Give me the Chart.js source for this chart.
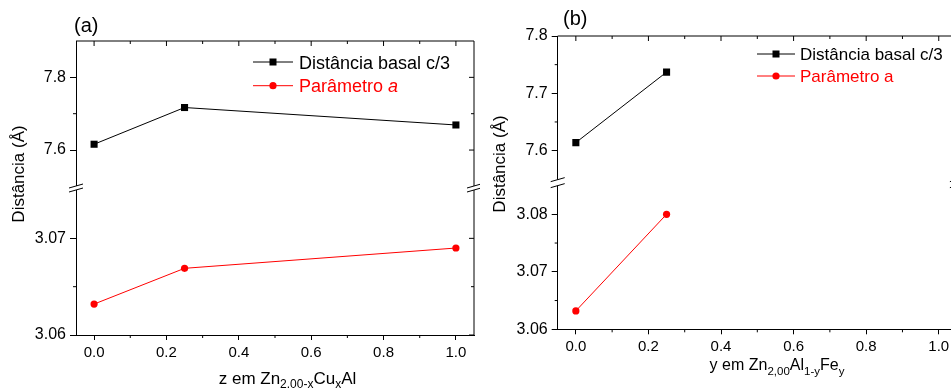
<!DOCTYPE html>
<html><head><meta charset="utf-8">
<script src="https://cdn.jsdelivr.net/npm/chart.js@4.4.1/dist/chart.umd.min.js"></script>
<style>
html,body{margin:0;padding:0;overflow:hidden;background:#fff;width:951px;height:390px;}
#ca{position:absolute;left:0;top:0;}
#cb{position:absolute;left:480px;top:0;}
</style></head><body>
<canvas id="ca" width="480" height="390"></canvas>
<canvas id="cb" width="490" height="390"></canvas>
<script>
// ---- data ----
const xA = [0, 0.25, 1.0];
const basalA = [7.616, 7.717, 7.669];
const paramA = [3.0632, 3.0669, 3.0690];
const xB = [0, 0.25];
const basalB = [7.614, 7.737];
const paramB = [3.0632, 3.0800];
const seriesLabels = ['Distância basal c/3', 'Parâmetro a'];
const xMajorTicks = [0, 0.2, 0.4, 0.6, 0.8, 1.0];
const xMinorTicks = [0.1, 0.3, 0.5, 0.7, 0.9];
const yTopMajorA = [7.6, 7.8];
const yTopMinorA = [7.7];
const yBotMajorA = [3.06, 3.07];
const yBotMinorA = [3.065];
const yTopMajorB = [7.6, 7.7, 7.8];
const yTopMinorB = [7.65, 7.75];
const yBotMajorB = [3.06, 3.07, 3.08];
const yBotMinorB = [3.065, 3.075];
const yTitleText = 'Distância (Å)';
const xTitleA = [['z em Zn', 0], ['2.00-x', 1], ['Cu', 0], ['x', 1], ['Al', 0]];
const xTitleB = [['y em Zn', 0], ['2,00', 1], ['Al', 0], ['1-y', 1], ['Fe', 0], ['y', 1]];

const FONT = '"Liberation Sans", Arial, sans-serif';
Chart.defaults.font.family = FONT;

function makeChart(cfg) {
  const seg = (c, x1, y1, x2, y2) => { c.beginPath(); c.moveTo(x1, y1); c.lineTo(x2, y2); c.stroke(); };
  const framePlugin = {
    id: 'frame',
    afterDraw(chart) {
      const c = chart.ctx, a = chart.chartArea, s = chart.scales;
      const L = a.left, R = a.right, T = a.top, B = a.bottom;
      c.save();
      c.strokeStyle = '#000'; c.lineWidth = 1;
      seg(c, L, T, R, T);
      seg(c, R, T, R, B);
      for (const v of xMajorTicks) { const px = s.x.getPixelForValue(v); seg(c, px, T, px, T + 5); }
      for (const v of xMinorTicks) { const px = s.x.getPixelForValue(v); seg(c, px, B, px, B + 3); seg(c, px, T, px, T + 3); }
      const sets = [[s.yTop, cfg.topMajor, cfg.topMinor], [s.yBot, cfg.botMajor, cfg.botMinor]];
      for (const [sc, maj, mn] of sets) {
        for (const v of maj) { const py = sc.getPixelForValue(v); seg(c, R - 5, py, R, py); }
        for (const v of mn) { const py = sc.getPixelForValue(v); seg(c, L - 3, py, L, py); seg(c, R - 3, py, R, py); }
      }
      // axis break
      const yb = s.yTop.bottom, g = cfg.gap;
      c.fillStyle = '#fff';
      c.fillRect(L - 2, yb - g, 4, 2 * g);
      c.fillRect(R - 2, yb - g, 4, 2 * g);
      for (const X of [L, R]) for (const Y of [yb - g, yb + g]) seg(c, X - 7, Y + 2, X + 7, Y - 2);
      // legend
      const lg = cfg.legend;
      chart.data.datasets.forEach((ds, i) => {
        const y = lg.rows[i];
        c.strokeStyle = ds.borderColor; c.fillStyle = ds.borderColor; c.lineWidth = 1;
        seg(c, lg.x0, y, lg.x1, y);
        const mx = (lg.x0 + lg.x1) / 2;
        if (ds.pointStyle === 'rect') { c.fillRect(mx - 3.5, y - 3.5, 7, 7); }
        else { c.beginPath(); c.arc(mx, y, 3.6, 0, Math.PI * 2); c.fill(); }
        c.textBaseline = 'alphabetic'; c.textAlign = 'left';
        const by = y + lg.font * 0.37;
        if (i === 1 && lg.italicA) {
          const base = ds.label.slice(0, -1);
          c.font = lg.font + 'px ' + FONT;
          c.fillText(base, lg.tx, by);
          const w = c.measureText(base).width;
          c.font = 'italic ' + lg.font + 'px ' + FONT;
          c.fillText(ds.label.slice(-1), lg.tx + w, by);
        } else {
          c.font = lg.font + 'px ' + FONT;
          c.fillText(ds.label, lg.tx, by);
        }
      });
      // y title
      c.fillStyle = '#000';
      c.save();
      c.translate(cfg.yTitle.x, cfg.yTitle.y);
      c.rotate(-Math.PI / 2);
      c.font = cfg.yTitle.font + 'px ' + FONT;
      c.textAlign = 'center'; c.textBaseline = 'alphabetic';
      c.fillText(yTitleText, 0, 0);
      c.restore();
      // x title with subscripts
      const xt = cfg.xTitle;
      c.textAlign = 'left'; c.textBaseline = 'alphabetic';
      let total = 0;
      for (const [t, sub] of xt.parts) { c.font = (sub ? xt.sub : xt.font) + 'px ' + FONT; total += c.measureText(t).width; }
      let cx = xt.cx - total / 2;
      for (const [t, sub] of xt.parts) {
        c.font = (sub ? xt.sub : xt.font) + 'px ' + FONT;
        c.fillText(t, cx, xt.y + (sub ? xt.subOff : 0));
        cx += c.measureText(t).width;
      }
      // panel label
      c.font = cfg.panel.font + 'px ' + FONT;
      c.fillText(cfg.panel.text, cfg.panel.x, cfg.panel.y);
      c.restore();
    }
  };

  const tickFontY = { size: 16, family: FONT };
  const tickFontX = { size: 15, family: FONT };
  const yCommon = (mn, mx, major, dec) => ({
    type: 'linear', position: 'left', stack: 'brk', stackWeight: 1,
    min: mn, max: mx,
    afterBuildTicks: (sc) => { sc.ticks = major.map(v => ({ value: v })); },
    afterFit: (sc) => { sc.width = cfg.left; },
    ticks: { callback: (v) => Number(v).toFixed(dec), font: tickFontY, color: '#000', padding: 4, autoSkip: false },
    grid: { drawOnChartArea: false, drawTicks: true, tickLength: 6, color: '#000', tickColor: '#000', tickWidth: 1 },
    border: { color: '#000', width: 1 }
  });

  return new Chart(document.getElementById(cfg.canvas), {
    type: 'line',
    data: {
      datasets: [
        { label: seriesLabels[0], data: cfg.x.map((x, i) => ({ x: x, y: cfg.basal[i] })), yAxisID: 'yTop',
          borderColor: '#000000', backgroundColor: '#000000', pointStyle: 'rect', pointRadius: 5, pointBorderWidth: 0,
          borderWidth: 1, tension: 0, fill: false },
        { label: seriesLabels[1], data: cfg.x.map((x, i) => ({ x: x, y: cfg.param[i] })), yAxisID: 'yBot',
          borderColor: '#ff0000', backgroundColor: '#ff0000', pointStyle: 'circle', pointRadius: 3.6, pointBorderWidth: 0,
          borderWidth: 1, tension: 0, fill: false }
      ]
    },
    options: {
      responsive: false, animation: false,
      layout: { padding: { left: 0, top: cfg.top, right: cfg.right, bottom: 0 } },
      plugins: { legend: { display: false }, tooltip: { enabled: false } },
      scales: {
        x: {
          type: 'linear', min: -0.05, max: 1.05,
          afterBuildTicks: (sc) => { sc.ticks = xMajorTicks.map(v => ({ value: v })); },
          afterFit: (sc) => { sc.height = cfg.xAxisH; },
          ticks: { callback: (v) => Number(v).toFixed(1), font: tickFontX, color: '#000', padding: 4, maxRotation: 0, autoSkip: false },
          grid: { drawOnChartArea: false, drawTicks: true, tickLength: 5, color: '#000', tickColor: '#000', tickWidth: 1 },
          border: { color: '#000', width: 1 }
        },
        yBot: yCommon(cfg.botMin, cfg.botMax, cfg.botMajor, 2),
        yTop: yCommon(cfg.topMin, cfg.topMax, cfg.topMajor, 1)
      }
    },
    plugins: [framePlugin]
  });
}

makeChart({
  canvas: 'ca', left: 76, top: 41, right: 6, xAxisH: 55,
  x: xA, basal: basalA, param: paramA,
  topMin: 7.4956, topMax: 7.9, botMin: 3.06, botMax: 3.07521,
  topMajor: yTopMajorA, topMinor: yTopMinorA, botMajor: yBotMajorA, botMinor: yBotMinorA,
  gap: 2,
  legend: { x0: 253, x1: 293, tx: 299, rows: [62, 85.7], font: 18, italicA: true },
  yTitle: { x: 24, y: 174, font: 17 },
  xTitle: { cx: 287.5, y: 383.5, font: 17, sub: 12, subOff: 4.5, parts: xTitleA },
  panel: { text: '(a)', x: 74, y: 32, font: 20 }
});

makeChart({
  canvas: 'cb', left: 77.7, top: 36, right: 13.1, xAxisH: 60.7,
  x: xB, basal: basalB, param: paramB,
  topMin: 7.5441, topMax: 7.8, botMin: 3.06, botMax: 3.0855,
  topMajor: yTopMajorB, topMinor: yTopMinorB, botMajor: yBotMajorB, botMinor: yBotMinorB,
  gap: 3,
  legend: { x0: 277, x1: 315, tx: 320, rows: [54, 76], font: 17, italicA: false },
  yTitle: { x: 25, y: 164, font: 17 },
  xTitle: { cx: 297, y: 370, font: 16, sub: 11.5, subOff: 4.5, parts: xTitleB },
  panel: { text: '(b)', x: 83, y: 24.5, font: 20 }
});
</script>
</body></html>
